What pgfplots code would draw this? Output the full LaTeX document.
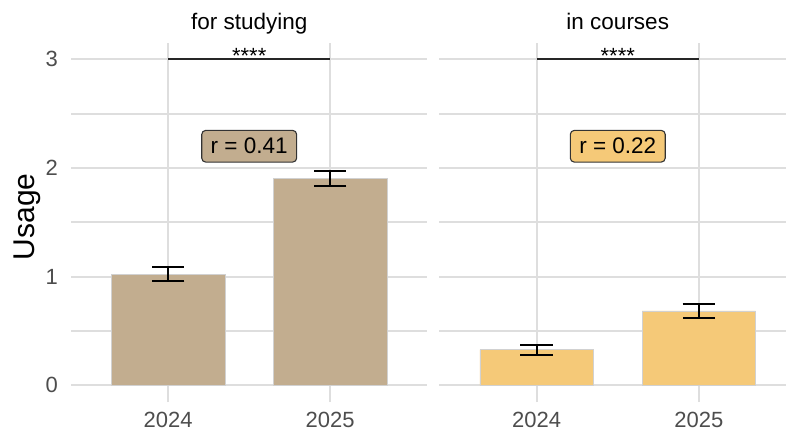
\documentclass[border=0pt]{standalone}
\usepackage{pgfplots}
\pgfplotsset{compat=1.18}
\usepackage{fontspec}
\setmainfont{Liberation Sans}

\definecolor{tanbar}{RGB}{194,173,143}
\definecolor{goldbar}{RGB}{245,201,120}
\definecolor{gridgray}{RGB}{222,222,222}
\definecolor{ticktext}{RGB}{77,77,77}

\pgfplotsset{
  panel/.style={
    scale only axis,
    height=359.3pt,
    xmin=0.4,
    ymin=-0.154, ymax=3.153,
    axis line style={draw=none},
    major tick length=0pt, minor tick length=0pt,
    xtick={1,2}, xticklabels={2024,2025},
    ytick={0,1,2,3},
    minor ytick={0.5,1.5,2.5},
    xmajorgrids, ymajorgrids, yminorgrids,
    major grid style={draw=gridgray, line width=2.2pt},
    minor grid style={draw=gridgray, line width=1.8pt},
    /pgf/number format/assume math mode=true,
    tick label style={font=\fontsize{22}{24}\selectfont, text=ticktext},
    xticklabel style={anchor=base, yshift=-25.5pt},
    yticklabel style={anchor=east, inner sep=0pt, xshift=-13pt},
    clip=false,
    ybar, bar width=0.7, bar shift=0pt,
  },
  errstyle/.style={
    draw=none, fill=none, mark=none, forget plot,
    error bars/.cd, y dir=both, y explicit,
    error bar style={black, line width=2pt},
    error mark options={black, line width=2pt, mark size=16.2pt, rotate=90},
  },
}

\begin{document}
\begin{tikzpicture}
\useasboundingbox (0,0) rectangle (786pt,432pt);

% ---- for studying ----
\begin{axis}[panel, at={(71pt,30pt)}, anchor=south west, width=356.4pt, xmax=2.6]
  \addplot[fill=tanbar, draw=black!18, line width=0.7pt]
    coordinates {(1,1.022) (2,1.903)};
  \addplot[errstyle] coordinates {(1,1.026) +- (0,0.066) (2,1.903) +- (0,0.069)};
  \draw[black!85, line width=1.7pt] (axis cs:1,3) -- (axis cs:2,3);
  \node[anchor=base, inner sep=0pt, font=\fontsize{22}{24}\selectfont]
    at (axis cs:1.5,3) [yshift=-4.5pt] {****};
  \node[draw=black!80, fill=tanbar, rounded corners=4pt, line width=1.1pt,
        inner xsep=9pt, minimum height=31.7pt, font=\fontsize{22.5}{24}\selectfont]
    at (axis cs:1.5,2.2) {r = 0.41};
  \node[anchor=base, font=\fontsize{22.5}{24}\selectfont]
    at (axis cs:1.5,3.153) [yshift=12.7pt] {for studying};
  \node[rotate=90, font=\fontsize{30}{32}\selectfont]
    at (axis cs:0.128,1.55) {Usage};
\end{axis}

% ---- in courses ----
\begin{axis}[panel, at={(439.3pt,30pt)}, anchor=south west, width=346.7pt, xmax=2.537,
  yticklabels={}]
  \addplot[fill=goldbar, draw=black!18, line width=0.7pt]
    coordinates {(1,0.328) (2,0.684)};
  \addplot[errstyle] coordinates {(1,0.326) +- (0,0.045) (2,0.685) +- (0,0.063)};
  \draw[black!85, line width=1.7pt] (axis cs:1,3) -- (axis cs:2,3);
  \node[anchor=base, inner sep=0pt, font=\fontsize{22}{24}\selectfont]
    at (axis cs:1.5,3) [yshift=-4.5pt] {****};
  \node[draw=black!80, fill=goldbar, rounded corners=4pt, line width=1.1pt,
        inner xsep=9pt, minimum height=31.7pt, font=\fontsize{22.5}{24}\selectfont]
    at (axis cs:1.5,2.2) {r = 0.22};
  \node[anchor=base, font=\fontsize{22.5}{24}\selectfont]
    at (axis cs:1.5,3.153) [yshift=12.7pt] {in courses};
\end{axis}
\end{tikzpicture}
\end{document}
